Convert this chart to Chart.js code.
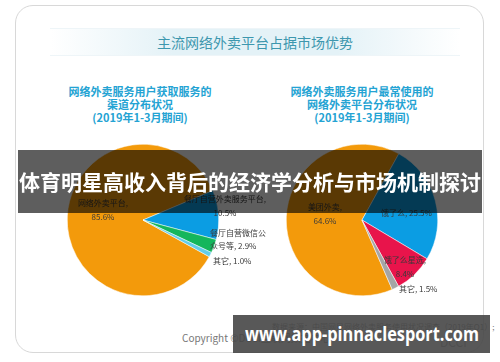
<!DOCTYPE html>
<html>
<head>
<meta charset="utf-8">
<script src="https://cdn.jsdelivr.net/npm/chart.js@4"></script>
<style>
    body { margin: 0; width: 500px; height: 362px; background: #fff; position: relative; overflow: hidden; font-family: 'Noto Sans CJK SC', 'Noto Sans', sans-serif; }
    .card { position: absolute; left: 15px; top: 5px; width: 469px; height: 348px; border: 1px solid #d8d8d8; border-radius: 18px; box-sizing: border-box; }
    .title-band { position: absolute; left: 50px; top: 28px; width: 410px; height: 26px; background: linear-gradient(to right, rgba(255,255,255,0), #e4f2f7 30%, #e4f2f7 70%, rgba(255,255,255,0)); border-top: 1px solid #eef5f8; border-bottom: 1px solid #eef5f8; text-align: center; line-height: 26px; font-size: 14px; color: #3d97ae; }
    .sub { position: absolute; width: 200px; text-align: center; color: #24a3d3; font-weight: bold; font-size: 11px; line-height: 13px; }
    canvas { position: absolute; }
    .lbl { position: absolute; font-size: 8px; color: #3a3a3a; line-height: 14px; text-align: center; }
    .banner { position: absolute; left: 18px; top: 150px; width: 464px; height: 63px; background: rgba(0,0,0,0.63); color: #fff; font-weight: bold; font-size: 21px; line-height: 63px; text-align: center; white-space: nowrap; }
    .footer { position: absolute; font-size: 10px; color: #777; white-space: nowrap; }
    .watermark { position: absolute; left: 233px; top: 315px; width: 257px; height: 38px; background: rgba(70,70,70,0.9); }
    .watermark span { position: absolute; left: 12px; top: 0; color: #fff; font-family: 'Open Sans', 'Noto Sans', sans-serif; font-weight: bold; font-size: 20px; line-height: 38px; white-space: nowrap; transform-origin: 0 50%; }
</style>
</head>
<body>
<div class="card"></div>
<div class="title-band">主流网络外卖平台占据市场优势</div>

<div class="sub" style="left:40px; top:85px;">网络外卖服务用户获取服务的<br>渠道分布状况<br>(2019年1-3月期间)</div>
<div class="sub" style="left:262px; top:85px;">网络外卖服务用户最常使用的<br>网络外卖平台分布状况<br>(2019年1-3月期间)</div>

<canvas id="channelChart" width="152" height="152" style="left:67px; top:144px;"></canvas>
<canvas id="platformChart" width="152" height="152" style="left:286px; top:144px;"></canvas>

<div id="labels"></div>

<div class="footer" style="left:272px; top:321px; font-size:8px;">数据来源：中国网民网络外卖服务使用状况调查（2019年Q1）;</div>
<div class="footer" style="left:182px; top:330px;">Copyright ©DCCI互联网数据中心</div>
<div class="footer" style="left:440px; top:333px; font-size:12px; color:#999;">DCCI</div>

<div class="banner">体育明星高收入背后的经济学分析与市场机制探讨</div>
<div class="watermark"><span id="wm">www.app-pinnaclesport.com</span></div>

<script>
// left pie: channels
const channelLabels = ['网络外卖平台', '餐厅自营外卖服务平台', '餐厅自营微信公众号等', '其它'];
const channelValues = [85.6, 10.5, 2.9, 1.0];
const channelColors = ['#f39a0b', '#0b9de3', '#14b65c', '#62cde8'];

// right pie: platforms
const platformLabels = ['美团外卖', '饿了么', '饿了么星选', '其它'];
const platformValues = [64.6, 25.5, 8.4, 1.5];
const platformColors = ['#f39a0b', '#0b9de3', '#e8144b', '#a5a5a5'];

function makePie(id, labels, values, colors, rotation) {
    return new Chart(document.getElementById(id), {
        type: 'pie',
        data: {
            labels: labels,
            datasets: [{
                data: values,
                backgroundColor: colors,
                borderColor: '#ffffff',
                borderWidth: 0.5
            }]
        },
        options: {
            responsive: false,
            animation: false,
            rotation: rotation,
            layout: { padding: 0 },
            plugins: {
                legend: { display: false },
                tooltip: { enabled: false }
            }
        }
    });
}

makePie('channelChart', channelLabels, channelValues, channelColors, 119);
makePie('platformChart', platformLabels, platformValues, platformColors, 156.5);

// label boxes: [left, top, width, break before value, align]
const channelLabelPos = [[68, 196, 70, true, 'center'], [180, 192, 90, true, 'center'], [210, 226, 58, false, 'left'], [213, 254, 60, false, 'left']];
const platformLabelPos = [[295, 200, 60, true, 'center'], [381, 206, 60, false, 'left'], [380, 253, 50, true, 'center'], [399, 282, 50, false, 'left']];

function addLabels(labels, values, pos) {
    const box = document.getElementById('labels');
    labels.forEach((name, i) => {
        const p = pos[i];
        const el = document.createElement('div');
        el.className = 'lbl';
        el.style.left = p[0] + 'px';
        el.style.top = p[1] + 'px';
        el.style.width = p[2] + 'px';
        el.style.textAlign = p[4];
        if (name.length >= 9 && !p[3]) el.style.lineHeight = '13px';
        el.innerHTML = name + ',' + (p[3] ? '<br>' : ' ') + values[i].toFixed(1) + '%';
        box.appendChild(el);
    });
}

addLabels(channelLabels, channelValues, channelLabelPos);
addLabels(platformLabels, platformValues, platformLabelPos);

// squeeze watermark text to the width it has in the picture
const wm = document.getElementById('wm');
wm.style.transform = 'scaleX(' + (234 / wm.offsetWidth) + ')';
</script>
</body>
</html>
